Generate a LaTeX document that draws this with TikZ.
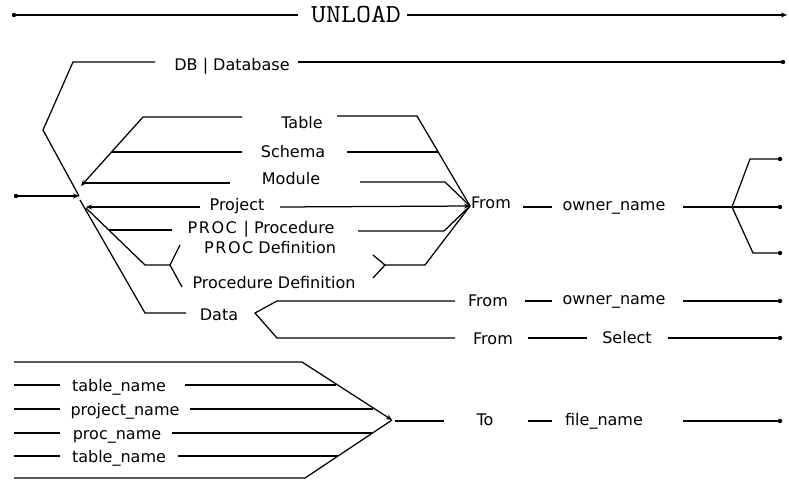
\documentclass[tikz,border=0pt]{standalone}
\usepackage{fontspec}
\usepackage{graphicx}
\newfontfamily\railfont{DejaVu Sans}
\usetikzlibrary{arrows.meta}

\tikzset{
  word/.style={font=\railfont\fontsize{16}{18}\selectfont, inner sep=0pt, anchor=base},
  headword/.style={font=\ttfamily\fontsize{26}{28}\selectfont, inner sep=0pt, anchor=base},
  jtip/.style={-{Stealth[length=6pt,width=5pt]}},
}
\newcommand{\spaced}[1]{{\addfontfeature{LetterSpace=10}#1}}

\begin{document}
\begin{tikzpicture}[x=1pt, y=-1pt, line width=1.25pt]
\useasboundingbox (0,0) rectangle (789,480);

% ============================================================
% Header line: UNLOAD
% ============================================================
\coordinate (u0) at (14,15);
\coordinate (u1) at (298,15);
\node[headword] (unload) at (356,22) {\scalebox{1.12}[1]{UNLOAD}};
\coordinate (u2) at (407,15);
\coordinate (u3) at (787,15);
\draw (u0) -- (u1);
\draw[jtip] (u2) -- (u3);
\fill (u0) circle (2.2pt);

% ============================================================
% Object kinds: left junction J
% ============================================================
\coordinate (in0) at (16,196);
\coordinate (J) at (79,196);
\draw[jtip] (in0) -- (J);
\fill (in0) circle (2.2pt);

% DB | Database
\coordinate (db1) at (43,130);
\coordinate (db2) at (73,62);
\coordinate (db3) at (155,62);
\node[word] (db) at (232,70) {DB | Database};
\coordinate (db4) at (298,62);
\coordinate (db5) at (783,62);
\draw (J) -- (db1) -- (db2) -- (db3);
\draw (db4) -- (db5);

% Table / Schema / Module
\coordinate (ta0) at (81,186);
\coordinate (ta1) at (143,117);
\coordinate (ta2) at (242,117);
\coordinate (sc1) at (112,152);
\coordinate (sc2) at (242,152);
\coordinate (mo1) at (84,183);
\coordinate (mo2) at (230,183);
\draw[jtip] (ta2) -- (ta1) -- (ta0);
\draw (sc1) -- (sc2);
\draw (mo1) -- (mo2);
\node[word] (table)  at (302,128) {Table};
\node[word] (schema) at (293,157) {Schema};
\node[word] (module) at (291,184) {Module};

% Project
\coordinate (pr1) at (86,207);
\coordinate (pr2) at (200,207);
\draw[jtip] (pr2) -- (pr1);
\node[word] (project) at (237,210) {Project};

% PROC | Procedure and the two definition forms
\coordinate (lo0) at (86,208);
\coordinate (lo1) at (145,265);
\coordinate (lo2) at (170,265);
\coordinate (pc1) at (109,230);
\coordinate (pc2) at (172,230);
\coordinate (fk1) at (180,245);
\coordinate (fk2) at (182,287);
\draw (lo0) -- (lo1) -- (lo2);
\draw (pc1) -- (pc2);
\draw (fk1) -- (lo2) -- (fk2);
\node[word] (proc)    at (261,233) {\spaced{PROC |} Procedure};
\node[word] (procdef) at (270,253) {\spaced{PROC} Definition};
\node[word] (procedef) at (274,288) {Procedure Definition};

% Data
\coordinate (da0) at (80,200);
\coordinate (da1) at (145,313);
\coordinate (da2) at (186,313);
\draw (da0) -- (da1) -- (da2);
\node[word] (data) at (219,320) {Data};

% ============================================================
% Right side of the object kinds: junction F
% ============================================================
\coordinate (F) at (470,206);
\coordinate (ta3) at (337,116);
\coordinate (ta4) at (417,116);
\coordinate (sc3) at (347,152);
\coordinate (sc4) at (438,152);
\coordinate (mo3) at (360,182);
\coordinate (mo4) at (445,182);
\coordinate (pr3) at (280,207);
\coordinate (pc3) at (358,231);
\coordinate (pc4) at (444,231);
\coordinate (rk1) at (373,255);
\coordinate (rk0) at (385,265);
\coordinate (rk2) at (373,278);
\coordinate (rk3) at (425,265);
\draw (ta3) -- (ta4) -- (F);
\draw (sc3) -- (sc4);
\draw (mo3) -- (mo4) -- (F);
\draw[jtip] (pr3) -- (F);
\draw (pc3) -- (pc4) -- (F);
\draw (rk1) -- (rk0) -- (rk2);
\draw (rk0) -- (rk3) -- (F);

\node[word] (from1) at (491,208) {From};
\coordinate (ow0) at (523,207);
\coordinate (ow1) at (552,207);
\node[word] (owner1) at (614,210) {owner\_name};
\coordinate (ow2) at (683,207);
\coordinate (K) at (732,207);
\coordinate (k1) at (750,159);
\coordinate (k2) at (780,159);
\coordinate (k3) at (780,207);
\coordinate (k4) at (753,253);
\coordinate (k5) at (780,253);
\draw (ow0) -- (ow1);
\draw (ow2) -- (K);
\draw (K) -- (k1) -- (k2);
\draw (K) -- (k3);
\draw (K) -- (k4) -- (k5);

% ============================================================
% Data rows
% ============================================================
\coordinate (dv) at (255,313);
\coordinate (dv1) at (277,301);
\coordinate (dv2) at (455,301);
\coordinate (dv3) at (277,338);
\coordinate (dv4) at (455,338);
\draw (dv2) -- (dv1) -- (dv) -- (dv3) -- (dv4);

\node[word] (from2) at (488,306) {From};
\coordinate (dr1) at (525,301);
\coordinate (dr2) at (552,301);
\node[word] (owner2) at (614,304) {owner\_name};
\coordinate (dr3) at (683,301);
\coordinate (dr4) at (780,301);
\draw (dr1) -- (dr2);
\draw (dr3) -- (dr4);

\node[word] (from3) at (493,344) {From};
\coordinate (ds1) at (528,338);
\coordinate (ds2) at (587,338);
\node[word] (select) at (627,343) {Select};
\coordinate (ds3) at (668,338);
\coordinate (ds4) at (780,338);
\draw (ds1) -- (ds2);
\draw (ds3) -- (ds4);

% ============================================================
% Target names: junction T
% ============================================================
\coordinate (T) at (392,420);
\coordinate (tt0) at (14,362);
\coordinate (tt1) at (302,362);
\coordinate (bb0) at (14,478);
\coordinate (bb1) at (305,478);
\draw[jtip] (tt0) -- (tt1) -- (T);
\draw (bb0) -- (bb1) -- (T);

\foreach \nm/\cx/\ly/\ra/\rb in {table\_name/119/385/185/336,
    project\_name/125/409/190/373,
    proc\_name/117/433/172/372,
    table\_name/119/456/178/338} {
  \draw (14,\ly) -- (60,\ly);
  \node[word] at (\cx,\ly+6.5) {\nm};
  \draw (\ra,\ly) -- (\rb,\ly);
}

\coordinate (to0) at (395,421);
\coordinate (to1) at (444,421);
\node[word] (to) at (485,425) {To};
\coordinate (fn0) at (528,421);
\coordinate (fn1) at (552,421);
\node[word] (file) at (604,425) {file\_name};
\coordinate (fn2) at (683,421);
\coordinate (fn3) at (780,421);
\draw (to0) -- (to1);
\draw (fn0) -- (fn1);
\draw (fn2) -- (fn3);

% end dots
\foreach \c in {db5,k2,k3,k5,dr4,ds4,fn3}
  \fill (\c) circle (2.2pt);

\end{tikzpicture}
\end{document}
